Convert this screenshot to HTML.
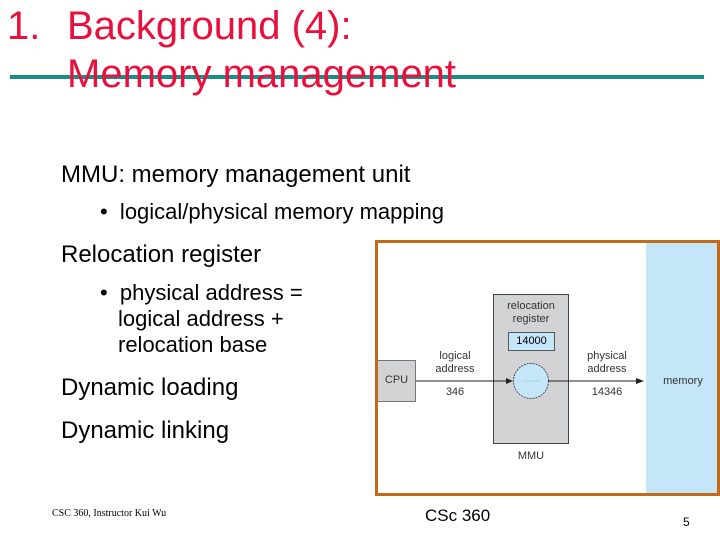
<!DOCTYPE html>
<html><head><style>
body{margin:0;width:720px;height:540px;background:#fff;position:relative;overflow:hidden;font-family:"Liberation Sans",sans-serif;}
.a{position:absolute;white-space:nowrap;}
.t{color:#e8103c;font-size:40px;}
.b{font-size:24px;color:#000;}
.s{font-size:22px;color:#000;}
.d{font-size:11px;color:#333;text-align:center;line-height:13px;}
</style></head><body>
<div class="a" style="left:10px;top:75px;width:694px;height:4px;background:#1b8c8c"></div>
<div class="a t" style="left:7px;top:4px">1.</div>
<div class="a t" style="left:67px;top:4px">Background (4):</div>
<div class="a t" style="left:67px;top:52px">Memory management</div>
<div class="a b" style="left:61px;top:161px">MMU: memory management unit</div>
<div class="a s" style="left:100px;top:199px">•&nbsp; logical/physical memory mapping</div>
<div class="a b" style="left:61px;top:241px">Relocation register</div>
<div class="a s" style="left:100px;top:280px">•&nbsp; physical address =</div>
<div class="a s" style="left:118px;top:306px">logical address +</div>
<div class="a s" style="left:118px;top:332px">relocation base</div>
<div class="a b" style="left:61px;top:374px">Dynamic loading</div>
<div class="a b" style="left:61px;top:417px">Dynamic linking</div>
<div class="a" style="left:52px;top:508px;font-family:'Liberation Serif',serif;font-size:10px">CSC 360, Instructor Kui Wu</div>
<div class="a" style="left:425px;top:506px;font-size:17px">CSc 360</div>
<div class="a" style="left:683px;top:515px;font-size:12px">5</div>

<div class="a" style="left:375px;top:240px;width:339px;height:250px;border:3px solid #c06a1a;background:#fff"></div>
<div class="a" style="left:646px;top:243px;width:71px;height:250px;background:#c5e6f8"></div>
<div class="a d" style="left:646px;top:375px;width:74px">memory</div>
<div class="a" style="left:378px;top:360px;width:37px;height:40px;background:#d2d3d5;border:1px solid #777;border-left:none"></div>
<div class="a d" style="left:378px;top:374px;width:37px">CPU</div>
<div class="a" style="left:493px;top:294px;width:74px;height:148px;background:#d2d3d5;border:1px solid #444"></div>
<div class="a d" style="left:493px;top:300px;width:76px">relocation<br>register</div>
<div class="a" style="left:508px;top:332px;width:45px;height:17px;background:#c5e6f8;border:1px solid #555"></div>
<div class="a d" style="left:508px;top:335px;width:47px;color:#000">14000</div>
<div class="a d" style="left:425px;top:350px;width:60px">logical<br>address</div>
<div class="a d" style="left:425px;top:386px;width:60px">346</div>
<div class="a d" style="left:577px;top:350px;width:60px">physical<br>address</div>
<div class="a d" style="left:577px;top:386px;width:60px">14346</div>
<div class="a d" style="left:493px;top:450px;width:76px">MMU</div>
<svg class="a" style="left:0;top:0" width="720" height="540">
<line x1="416" y1="381" x2="510" y2="381" stroke="#222" stroke-width="1"/>
<polygon points="513,381 506,378 506,384" fill="#222"/>
<circle cx="531" cy="381" r="17.5" fill="#c5e6f8" stroke="#333" stroke-width="0.8" stroke-dasharray="2,1"/>
<line x1="522" y1="381" x2="540" y2="381" stroke="#9bb" stroke-width="0.6"/>
<line x1="548" y1="381" x2="640" y2="381" stroke="#222" stroke-width="1"/>
<polygon points="644,381 636,378 636,384" fill="#222"/>
</svg>
</body></html>
